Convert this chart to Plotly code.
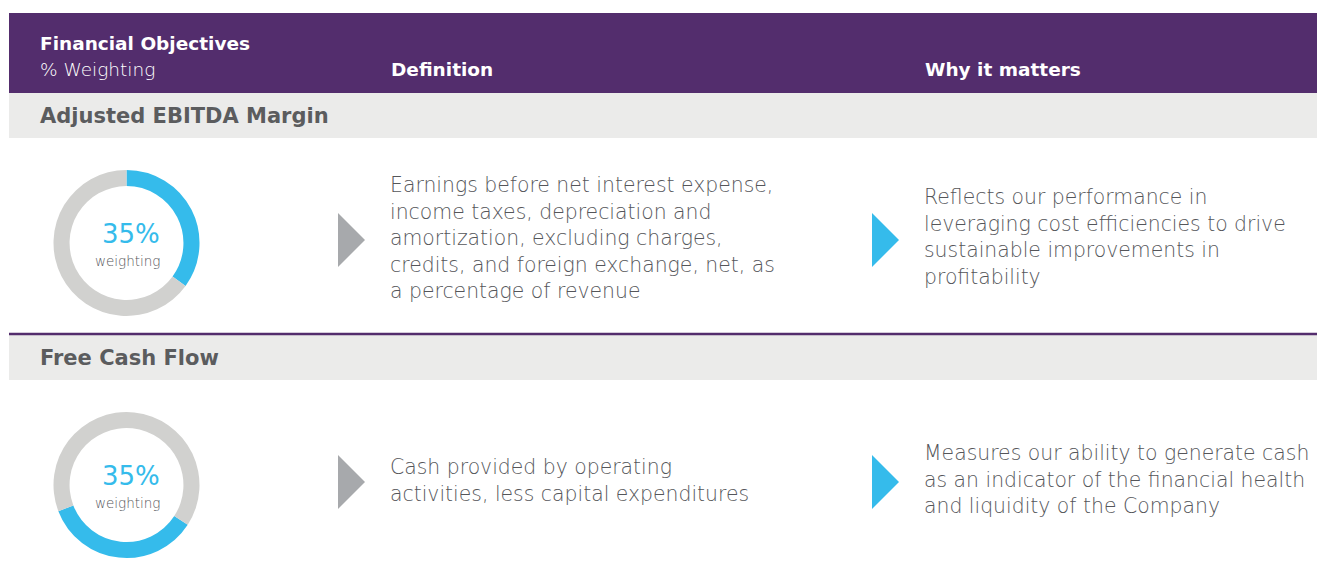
import plotly.graph_objects as go

# table content
objectives = ["Adjusted EBITDA Margin", "Free Cash Flow"]
weights = [35, 35]
definitions = [
    "Earnings before net interest expense,<br>income taxes, depreciation and<br>amortization, excluding charges,<br>credits, and foreign exchange, net, as<br>a percentage of revenue",
    "Cash provided by operating<br>activities, less capital expenditures",
]
why_it_matters = [
    "Reflects our performance in<br>leveraging cost efficiencies to drive<br>sustainable improvements in<br>profitability",
    "Measures our ability to generate cash<br>as an indicator of the financial health<br>and liquidity of the Company",
]
header_cols = ["Definition", "Why it matters"]

W, H = 1317, 571
PURPLE = "#532d6d"
BLUE = "#35bbeb"
RING = "#d1d1cf"
BAND = "#ebebea"
TEXT = "#55565a"
ARROW = "#a7a9ac"
FONT = "DejaVu Sans"

fig = go.Figure()

# donuts (one per objective)
row_top = [93, 335]
rotations = [0, 123]
for i, w in enumerate(weights):
    cy = row_top[i] + 150
    fig.add_trace(go.Pie(
        values=[w, 100 - w], marker=dict(colors=[BLUE, RING], line=dict(width=0)),
        hole=0.78, sort=False, direction="clockwise", rotation=rotations[i],
        textinfo="none", hoverinfo="skip", showlegend=False,
        domain=dict(x=[53.5 / W, 199.5 / W], y=[(H - cy - 73) / H, (H - cy + 73) / H]),
    ))

shapes = []
annotations = []

def txt(x, y, s, size, color, weight=200, anchor="left"):
    annotations.append(dict(
        x=x, y=y, xref="x", yref="y", text=s, showarrow=False,
        xanchor=anchor, yanchor="middle", align=anchor,
        font=dict(family=FONT, size=size, color=color, weight=weight),
    ))

# header band
shapes.append(dict(type="rect", x0=9, x1=W, y0=13, y1=93, fillcolor=PURPLE, line_width=0, layer="below"))
txt(38, 43, "Financial Objectives", 18.5, "white", 700)
txt(38, 69, "% Weighting", 18.5, "white", 200)
txt(389, 69, header_cols[0], 18.5, "white", 700)
txt(923, 69, header_cols[1], 18.5, "white", 700)

# purple divider between rows
shapes.append(dict(type="line", x0=9, x1=W, y0=334, y1=334, line=dict(color=PURPLE, width=2.5)))

for i, name in enumerate(objectives):
    top = row_top[i]
    shapes.append(dict(type="rect", x0=9, x1=W, y0=top, y1=top + 45, fillcolor=BAND, line_width=0, layer="below"))
    txt(38, top + 23, name, 21, "#5b5c5e", 700)
    cy = top + 150
    txt(131, cy - 9, f"{weights[i]}%", 26, BLUE, 400, "center")
    txt(127, cy + 18, "weighting", 13.5, "#55565a", 200, "center")
    ay = cy - 3
    shapes.append(dict(type="path", path=f"M338,{ay-27} L365,{ay} L338,{ay+27} Z", fillcolor=ARROW, line_width=0))
    shapes.append(dict(type="path", path=f"M872,{ay-27} L899,{ay} L872,{ay+27} Z", fillcolor=BLUE, line_width=0))
    txt(388, cy - 5, definitions[i], 20.4, TEXT)
    txt(922, cy - 6, why_it_matters[i], 20.4, TEXT)

fig.update_layout(
    width=W, height=H, margin=dict(l=0, r=0, t=0, b=0),
    paper_bgcolor="white", plot_bgcolor="white",
    xaxis=dict(range=[0, W], visible=False, fixedrange=True),
    yaxis=dict(range=[H, 0], visible=False, fixedrange=True),
    shapes=shapes, annotations=annotations,
)

fig.write_html("out.html", config={"displayModeBar": False},
               post_script="document.body.style.margin='0';document.body.style.overflow='hidden';")
